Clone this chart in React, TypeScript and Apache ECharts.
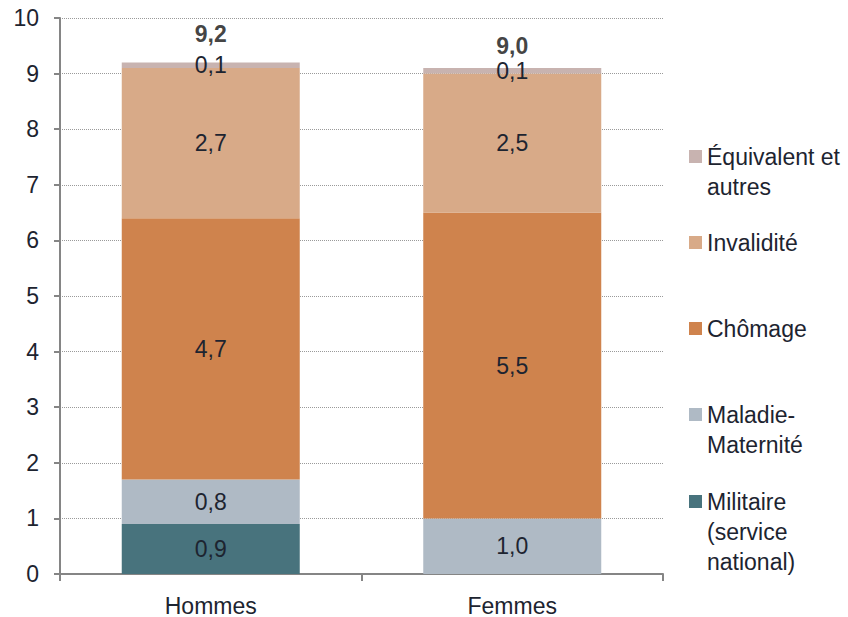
import React, { useEffect, useRef } from "react";
import * as echarts from "echarts";

// Categories and stacked components (values in points)
const categories = ["Hommes", "Femmes"];
const militaire = [0.9, null];
const maladie = [0.8, 1.0];
const chomage = [4.7, 5.5];
const invalidite = [2.7, 2.5];
const equivalent = [0.1, 0.1];
const totals = [9.2, 9.0];

const seriesNames = [
  "Militaire (service national)",
  "Maladie-Maternité",
  "Chômage",
  "Invalidité",
  "Équivalent et autres",
];
const seriesData = [militaire, maladie, chomage, invalidite, equivalent];
const seriesColors = ["#48737d", "#afbac5", "#cf834d", "#d8aa88", "#c8b3b0"];
const legendLines = [
  "Militaire\n(service\nnational)",
  "Maladie-\nMaternité",
  "Chômage",
  "Invalidité",
  "Équivalent et\nautres",
];
const legendFirstLineY = [502, 415, 329, 243, 157];

const FONT = "'Liberation Sans', Arial, sans-serif";
const TEXT = "#1d2430";
const SIZE = 23;

const fmt = (v: number) => v.toFixed(1).replace(".", ",");

export default function App() {
  const ref = useRef<HTMLDivElement>(null);

  useEffect(() => {
    if (!ref.current) return;
    const chart = echarts.init(ref.current, null, { renderer: "svg" });

    const bars = seriesNames.map((name, i) => ({
      name,
      type: "bar",
      stack: "total",
      barWidth: 178,
      data: seriesData[i],
      itemStyle: { color: seriesColors[i] },
      label: {
        show: true,
        position: "inside",
        fontFamily: FONT,
        fontSize: SIZE,
        color: TEXT,
        formatter: (p: any) => fmt(p.value),
      },
    }));

    const legendGraphics: any[] = [];
    seriesNames.forEach((_, i) => {
      legendGraphics.push({
        type: "rect",
        left: 689,
        top: legendFirstLineY[i] - 7,
        shape: { width: 13, height: 13 },
        style: { fill: seriesColors[i] },
      });
      legendGraphics.push({
        type: "text",
        left: 707,
        top: legendFirstLineY[i] - 15,
        style: {
          text: legendLines[i],
          fontFamily: FONT,
          fontSize: SIZE,
          lineHeight: 30,
          fill: TEXT,
        },
      });
    });

    chart.setOption({
      animation: false,
      backgroundColor: "#ffffff",
      grid: { left: 60, right: 185, top: 18, bottom: 41 },
      xAxis: {
        type: "category",
        data: categories,
        axisLine: { lineStyle: { color: "#858585", width: 2 } },
        axisTick: { show: true, length: 7, lineStyle: { color: "#858585", width: 2 } },
        axisLabel: { fontFamily: FONT, fontSize: SIZE, color: TEXT, margin: 20 },
      },
      yAxis: {
        type: "value",
        min: 0,
        max: 10,
        interval: 1,
        axisLine: { show: true, lineStyle: { color: "#858585", width: 2 } },
        axisTick: { show: true, length: 6, lineStyle: { color: "#858585", width: 2 } },
        axisLabel: { fontFamily: FONT, fontSize: SIZE, color: TEXT, margin: 21 },
        splitLine: { lineStyle: { color: "#9a9a9a", type: "dotted", width: 1 } },
      },
      series: [
        ...bars,
        {
          name: "Total",
          type: "scatter",
          data: totals,
          symbolSize: 0,
          silent: true,
          label: {
            show: true,
            position: "top",
            distance: 17,
            fontFamily: FONT,
            fontSize: SIZE,
            fontWeight: "bold",
            lineHeight: 22,
            color: "#111111",
            formatter: (p: any) => fmt(p.value),
          },
        },
      ],
      graphic: legendGraphics,
    });

    return () => chart.dispose();
  }, []);

  return (
    <div
      ref={ref}
      style={{ position: "fixed", left: 0, top: 0, width: 848, height: 617 }}
    />
  );
}
